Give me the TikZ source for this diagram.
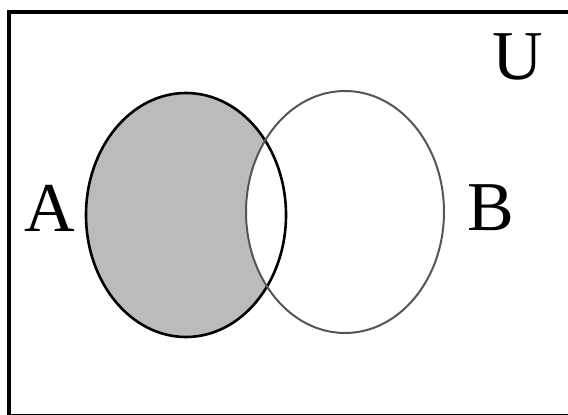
\documentclass[tikz,border=0pt]{standalone}
\usepackage{fontspec}
\setmainfont{Liberation Serif}
\usetikzlibrary{shapes.geometric}
\definecolor{ink}{HTML}{000000}
\definecolor{shadeA}{HTML}{BBBBBB}
\definecolor{rimB}{HTML}{555555}
\tikzset{
  setlabel/.style={font=\fontsize{70}{72}\selectfont, text=ink, inner sep=0pt},
  setA/.style={ellipse, draw=ink, line width=2.6pt, minimum width=200pt, minimum height=244pt, inner sep=0pt},
  setB/.style={ellipse, draw=rimB, line width=2pt, minimum width=198pt, minimum height=242pt, inner sep=0pt},
  frame/.style={draw=ink, line width=3.5pt}
}

\begin{document}
\begin{tikzpicture}[x=1pt,y=1pt]
\useasboundingbox (0,0) rectangle (568,415);

% universe frame (right side runs off the page)
\draw[frame] (9,-1) rectangle (585,403);

% shaded part: A without B
\fill[shadeA] (186,200) ellipse [x radius=100, y radius=122];
\fill[white] (345,203) ellipse [x radius=99, y radius=121];

\node[setA] (A) at (186,200) {};
\node[setB] (B) at (345,203) {};

\node[setlabel] (labA) at (50,207) {A};
\node[setlabel] (labB) at (491,207) {B};
\node[setlabel] (labU) at (518,358) {U};

\end{tikzpicture}
\end{document}
